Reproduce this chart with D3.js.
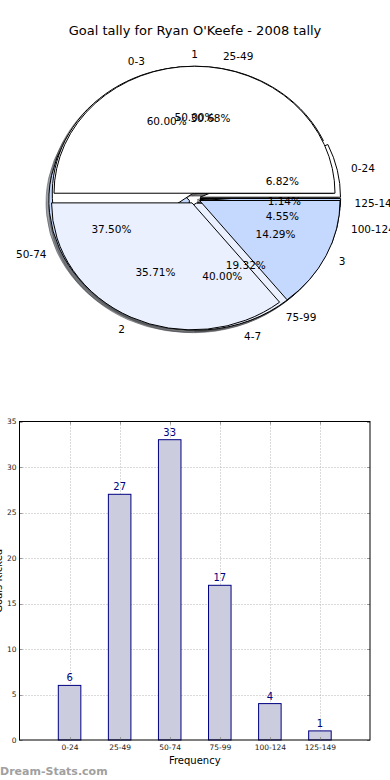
<!DOCTYPE html>
<html>
<head>
<meta charset="utf-8">
<script src="https://cdn.jsdelivr.net/npm/d3@7"></script>
<style>
  html, body { margin: 0; padding: 0; background: #fff; }
  svg { display: block; font-family: "DejaVu Sans", sans-serif; }
</style>
</head>
<body>
<svg id="chart" width="390" height="780"></svg>
<script>
// ---------- data ----------
const titleText = "Goal tally for Ryan O'Keefe - 2008 tally";
// pie C : ranges (drawn first, bottom)
const rangeLabels = ["0-24", "25-49", "50-74", "75-99", "100-124", "125-149"];
const rangeCounts = [6, 27, 33, 17, 4, 1];
// pie B : goal ranges
const goalRangeLabels = ["0-3", "4-7"];
const goalRangeValues = [60.00, 40.00];
// pie A : goals per game (drawn last, on top)
const goalLabels = ["1", "2", "3"];
const goalValues = [50.00, 35.71, 14.29];
// bar chart
const yTicks = [0, 5, 10, 15, 20, 25, 30, 35];
const xLabelText = "Frequency";
const yLabelText = "Goals Kicked";
const watermark = "Dream-Stats.com";
const sliceColors = ["#ffffff", "#eaf0fd", "#c5d8fd"];

(function () {
const svg = d3.select("#chart");

// title
svg.append("text").attr("x", 195).attr("y", 35).attr("text-anchor", "middle")
  .attr("font-size", 13).attr("fill", "#000").text(titleText);

// ---------- pies ----------
const cx = 194.5, cy = 198.3, rx = 140.5, ry = 127;
const explode = 0.04, labelDist = 1.1, pctDist = 0.6;
const pieGen = d3.pie().sort(null).value(d => d.v)
  .startAngle(Math.PI / 2).endAngle(Math.PI / 2 - 2 * Math.PI);
const unitArc = d3.arc().innerRadius(0).outerRadius(1);
const pct = d3.format(".2%");

const pies = [
  { labels: rangeLabels, values: rangeCounts },
  { labels: goalRangeLabels, values: goalRangeValues },
  { labels: goalLabels, values: goalValues }
].map(p => {
  const total = d3.sum(p.values);
  const arcs = pieGen(p.values.map((v, i) => ({ v, label: p.labels[i], i })));
  arcs.forEach(a => {
    const mid = (a.startAngle + a.endAngle) / 2;
    a.dx = Math.sin(mid); a.dy = -Math.cos(mid);
    a.ox = cx + explode * rx * a.dx;
    a.oy = cy + explode * ry * a.dy;
    a.frac = a.data.v / total;
    a.color = sliceColors[a.data.i % sliceColors.length];
  });
  return arcs;
});

const pieLayer = svg.append("g");
const shadowLayer = pieLayer.append("g");
const wedgeLayer = pieLayer.append("g");
const textLayer = pieLayer.append("g");

function shade(c) {
  const col = d3.rgb(c);
  return `rgba(${Math.round(col.r * 0.3)},${Math.round(col.g * 0.3)},${Math.round(col.b * 0.3)},0.5)`;
}

pies.forEach(arcs => {
  arcs.forEach(a => {
    shadowLayer.append("path")
      .attr("transform", `translate(${a.ox - 0.02 * rx},${a.oy + 0.02 * ry}) scale(${rx},${ry})`)
      .attr("d", unitArc(a))
      .attr("fill", shade(a.color))
      .attr("stroke", shade(a.color))
      .attr("stroke-width", 1)
      .attr("vector-effect", "non-scaling-stroke");
  });
});
pies.forEach(arcs => {
  arcs.forEach(a => {
    wedgeLayer.append("path")
      .attr("transform", `translate(${a.ox},${a.oy}) scale(${rx},${ry})`)
      .attr("d", unitArc(a))
      .attr("fill", a.color)
      .attr("stroke", "#000")
      .attr("stroke-width", 1)
      .attr("stroke-linejoin", "round")
      .attr("vector-effect", "non-scaling-stroke");
  });
});
pies.forEach(arcs => {
  arcs.forEach(a => {
    textLayer.append("text")
      .attr("x", a.ox + labelDist * rx * a.dx)
      .attr("y", a.oy + labelDist * ry * a.dy)
      .attr("text-anchor", a.dx > 0.001 ? "start" : (a.dx < -0.001 ? "end" : "middle"))
      .attr("dominant-baseline", "central")
      .attr("font-size", 10.5).attr("fill", "#000")
      .text(a.data.label);
    textLayer.append("text")
      .attr("x", a.ox + pctDist * rx * a.dx)
      .attr("y", a.oy + pctDist * ry * a.dy)
      .attr("text-anchor", "middle")
      .attr("dominant-baseline", "central")
      .attr("font-size", 10.5).attr("fill", "#000")
      .text(pct(a.frac));
  });
});

// ---------- bar chart ----------
const L = 19.5, R = 370, T = 421.5, B = 740;
const x = d3.scalePoint().domain(rangeLabels).range([L, R]).padding(1);
const y = d3.scaleLinear().domain([0, 35]).range([B, T]);
const bw = x.step() * 0.45;
const g = svg.append("g");

// grid
g.append("g").selectAll("line").data(yTicks.slice(1, -1)).join("line")
  .attr("x1", L).attr("x2", R)
  .attr("y1", d => Math.round(y(d)) + 0.5).attr("y2", d => Math.round(y(d)) + 0.5)
  .attr("stroke", "#b5b5b5").attr("stroke-dasharray", "1,2");
g.append("g").selectAll("line").data(rangeLabels).join("line")
  .attr("x1", d => Math.round(x(d)) + 0.5).attr("x2", d => Math.round(x(d)) + 0.5)
  .attr("y1", T).attr("y2", B)
  .attr("stroke", "#b5b5b5").attr("stroke-dasharray", "1,2");

// bars
g.append("g").selectAll("rect").data(rangeCounts).join("rect")
  .attr("x", (d, i) => x(rangeLabels[i]) - bw / 2)
  .attr("y", d => y(d))
  .attr("width", bw)
  .attr("height", d => B - y(d))
  .attr("fill", "#ccccdf")
  .attr("stroke", "#000080").attr("stroke-width", 1);

// value labels
g.append("g").selectAll("text").data(rangeCounts).join("text")
  .attr("x", (d, i) => x(rangeLabels[i]))
  .attr("y", d => y(d) - 4)
  .attr("text-anchor", "middle")
  .attr("font-size", 10).attr("fill", "#000080")
  .text(d => d);

// ticks (inside, on all sides)
const tickCol = "#999";
yTicks.forEach(t => {
  const yy = Math.round(y(t)) + 0.5;
  g.append("line").attr("x1", L).attr("x2", L + 3).attr("y1", yy).attr("y2", yy).attr("stroke", tickCol);
  g.append("line").attr("x1", R - 3).attr("x2", R).attr("y1", yy).attr("y2", yy).attr("stroke", tickCol);
});
rangeLabels.forEach(c => {
  const xx = Math.round(x(c)) + 0.5;
  g.append("line").attr("x1", xx).attr("x2", xx).attr("y1", T).attr("y2", T + 3).attr("stroke", tickCol);
  g.append("line").attr("x1", xx).attr("x2", xx).attr("y1", B - 3).attr("y2", B).attr("stroke", tickCol);
});

// frame
g.append("rect").attr("x", L).attr("y", T)
  .attr("width", R - L).attr("height", B - T)
  .attr("fill", "none").attr("stroke", "#000").attr("stroke-width", 1);

// axes labels via d3 axes
const yAxis = d3.axisLeft(y).tickValues(yTicks).tickSize(0).tickPadding(3);
g.append("g").attr("transform", `translate(${L},0)`).call(yAxis)
  .call(s => s.select(".domain").remove())
  .call(s => s.selectAll("text").attr("font-size", 7.5).attr("fill", "#222")
    .attr("font-family", "DejaVu Sans, sans-serif"));
const xAxis = d3.axisBottom(x).tickSize(0).tickPadding(5);
g.append("g").attr("transform", `translate(0,${B})`).call(xAxis)
  .call(s => s.select(".domain").remove())
  .call(s => s.selectAll("text").attr("font-size", 7.5).attr("fill", "#222")
    .attr("font-family", "DejaVu Sans, sans-serif"));

svg.append("text").attr("x", (L + R) / 2).attr("y", 764)
  .attr("text-anchor", "middle").attr("font-size", 10).attr("fill", "#000")
  .text(xLabelText);
svg.append("text").attr("transform", `translate(2,${(T + B) / 2}) rotate(-90)`)
  .attr("text-anchor", "middle").attr("font-size", 10).attr("fill", "#000")
  .text(yLabelText);

// watermark
svg.append("text").attr("x", 0).attr("y", 775)
  .attr("font-size", 11).attr("font-weight", "bold").attr("fill", "#a0a0a0")
  .attr("font-family", "DejaVu Sans, sans-serif")
  .text(watermark);
})();
</script>
</body>
</html>
